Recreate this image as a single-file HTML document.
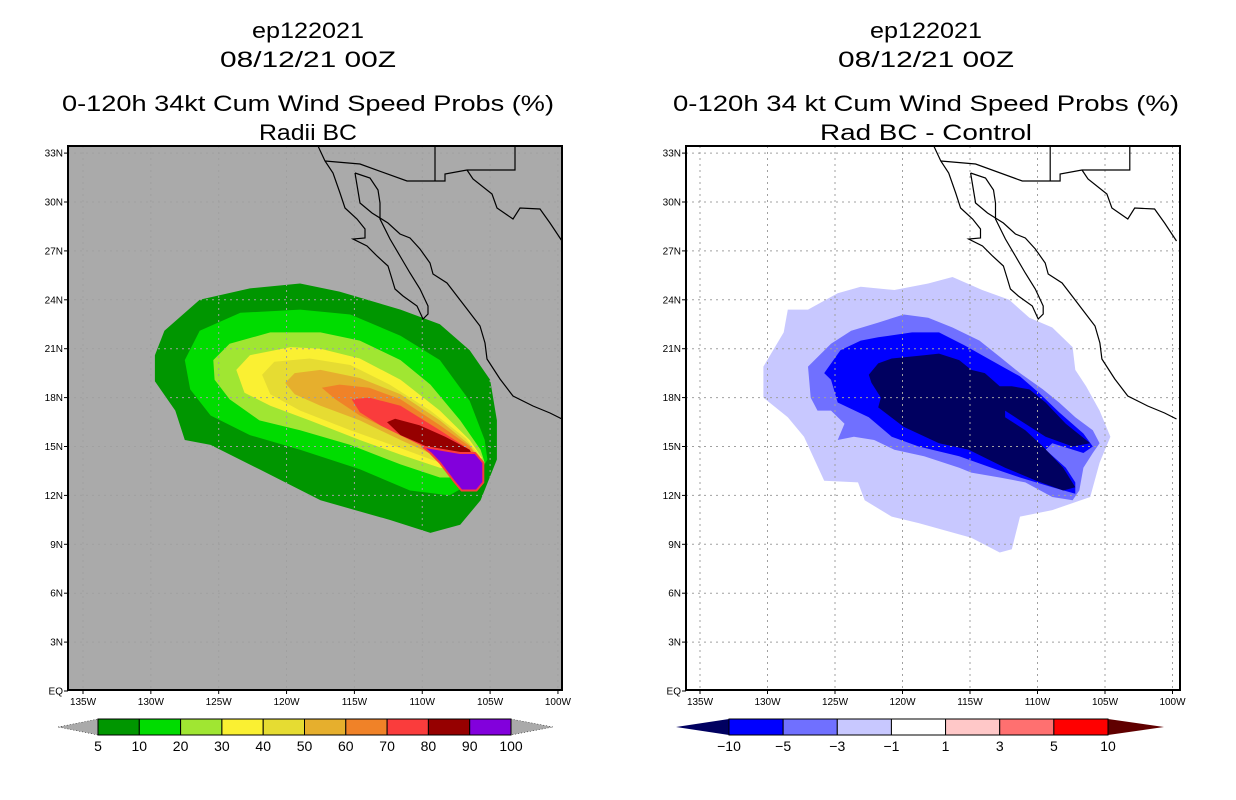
<!DOCTYPE html>
<html><head><meta charset="utf-8"><style>
html,body{margin:0;padding:0;background:#fff;}
svg{display:block;font-family:"Liberation Sans",sans-serif;}
</style></head><body>
<svg id="chart" width="1236" height="800" viewBox="0 0 1236 800" xmlns="http://www.w3.org/2000/svg">
<defs>
<clipPath id="clipL"><rect x="68" y="146" width="494" height="544"/></clipPath>
<clipPath id="clipR"><rect x="686" y="146" width="494" height="544"/></clipPath>
</defs>
<g id="left">
<text x="308" y="38" font-size="22" text-anchor="middle" textLength="112" lengthAdjust="spacingAndGlyphs">ep122021</text>
<text x="308" y="67" font-size="22" text-anchor="middle" textLength="176" lengthAdjust="spacingAndGlyphs">08/12/21 00Z</text>
<text x="308" y="111" font-size="22" text-anchor="middle" textLength="492" lengthAdjust="spacingAndGlyphs">0-120h 34kt Cum Wind Speed Probs (%)</text>
<text x="308" y="140" font-size="22" text-anchor="middle" textLength="98" lengthAdjust="spacingAndGlyphs">Radii BC</text>
<rect x="68" y="146" width="494" height="544" fill="#aaaaaa"/>
<g id="lcont" clip-path="url(#clipL)"></g>
<g id="lgrid" clip-path="url(#clipL)"></g>
<g id="lcoast" clip-path="url(#clipL)"></g>
<rect x="68" y="146" width="494" height="544" fill="none" stroke="#000" stroke-width="2"/>
<g id="laxes"></g>
<g id="lbar"></g>
</g>
<g id="right">
<text x="926" y="38" font-size="22" text-anchor="middle" textLength="112" lengthAdjust="spacingAndGlyphs">ep122021</text>
<text x="926" y="67" font-size="22" text-anchor="middle" textLength="176" lengthAdjust="spacingAndGlyphs">08/12/21 00Z</text>
<text x="926" y="111" font-size="22" text-anchor="middle" textLength="506" lengthAdjust="spacingAndGlyphs">0-120h 34 kt Cum Wind Speed Probs (%)</text>
<text x="926" y="140" font-size="22" text-anchor="middle" textLength="212" lengthAdjust="spacingAndGlyphs">Rad BC - Control</text>
<rect x="686" y="146" width="494" height="544" fill="#ffffff"/>
<g id="rcont" clip-path="url(#clipR)"></g>
<g id="rgrid" clip-path="url(#clipR)"></g>
<g id="rcoast" clip-path="url(#clipR)"></g>
<rect x="686" y="146" width="494" height="544" fill="none" stroke="#000" stroke-width="2"/>
<g id="raxes"></g>
<g id="rbar"></g>
</g>
</svg>
<script>
// ---- data ----
const lonTicks = [135,130,125,120,115,110,105,100];
const latTicks = [33,30,27,24,21,18,15,12,9,6,3,0];
const probLevels = [5,10,20,30,40,50,60,70,80,90,100];
const probColors = ["#009600","#00dc00","#a0e632","#faf032","#e6dc32","#e6af2d","#f08228","#fa3c3c","#960000","#8200dc"];
const diffLevels = ["-10","-5","-3","-1","1","3","5","10"];
const diffColors = ["#0000ff","#7070ff","#c8c8ff","#ffffff","#ffc8c8","#ff7070","#ff0000"];
const diffLowColor = "#000060", diffHighColor = "#600000";
// contour polygons [lonW, latN]
const p5 = [[129.7,20.6],[129.0,22.1],[126.4,24.0],[122.7,24.7],[119.0,25.0],[116.1,24.5],[111.6,23.4],[108.7,22.5],[106.5,20.9],[105.0,19.1],[104.5,16.6],[104.5,14.2],[105.7,11.7],[107.2,10.2],[109.4,9.7],[112.4,10.5],[117.5,11.7],[122.0,13.6],[125.6,15.1],[127.5,15.4],[128.2,17.2],[129.7,19.0]];
const p10 = [[127.5,20.3],[126.4,22.1],[123.4,23.2],[119.0,23.4],[115.3,23.1],[111.6,21.8],[108.7,20.3],[106.5,17.8],[105.4,15.4],[105.2,14.2],[106.1,12.9],[108.0,12.0],[110.9,12.3],[114.6,13.6],[119.0,14.8],[122.7,15.7],[125.6,16.9],[127.1,18.5]];
const p20 = [[125.4,20.3],[124.2,21.3],[121.2,22.0],[117.5,22.0],[114.6,21.5],[111.6,20.3],[109.4,18.8],[107.2,16.6],[105.7,14.8],[105.4,14.0],[106.5,13.1],[108.7,13.1],[111.6,13.9],[115.3,15.1],[119.0,16.0],[122.0,16.6],[124.2,17.9],[125.3,19.1]];
const p30 = [[123.7,19.7],[122.7,20.6],[119.7,21.1],[117.5,21.0],[114.6,20.4],[111.6,19.1],[108.7,17.2],[106.5,15.4],[105.6,14.3],[106.5,13.4],[108.7,13.7],[111.6,14.5],[114.6,15.4],[118.3,16.6],[121.2,17.5],[123.1,18.3]];
const p40 = [[121.8,19.4],[120.9,20.2],[118.3,20.4],[115.3,20.0],[112.4,18.8],[109.4,17.2],[106.8,15.5],[105.7,14.4],[106.6,13.7],[108.7,14.0],[111.6,14.9],[115.3,16.0],[119.0,17.2],[121.2,18.2]];
const p50 = [[120.1,18.9],[119.4,19.5],[117.5,19.7],[114.6,19.2],[111.6,18.2],[108.7,16.6],[106.5,15.1],[105.9,14.4],[106.8,13.9],[108.7,14.3],[111.6,15.4],[114.6,16.6],[117.5,17.5],[119.4,18.2]];
const p60 = [[117.4,18.6],[116.1,18.8],[113.9,18.6],[111.6,17.9],[108.7,16.3],[106.5,15.0],[106.0,14.4],[107.0,14.0],[108.7,14.5],[111.6,15.7],[114.6,16.9],[116.4,17.9]];
const p70 = [[115.2,17.9],[113.9,18.0],[111.6,17.5],[108.7,16.0],[106.5,14.8],[106.2,14.4],[107.1,14.0],[108.7,14.5],[110.9,15.4],[113.1,16.3],[114.6,17.1]];
const p80 = [[112.6,16.5],[112.0,16.7],[110.2,16.3],[108.3,15.6],[106.5,14.8],[106.3,14.4],[107.2,14.2],[108.7,14.6],[110.2,15.2],[111.6,15.7]];
const p90 = [[110.0,15.0],[107.2,14.6],[106.1,14.6],[105.5,14.0],[105.5,12.8],[106.0,12.3],[107.1,12.3],[107.7,12.9],[108.7,14.0],[109.4,14.6]];
const d1 = [[130.3,19.9],[128.8,22.0],[128.5,23.4],[127.0,23.4],[124.8,24.4],[123.1,24.8],[120.6,24.6],[118.1,25.0],[116.3,25.4],[114.1,24.6],[112.1,24.0],[110.6,22.9],[108.9,22.3],[107.4,21.1],[107.2,19.7],[106.4,18.7],[105.4,17.2],[104.6,15.6],[105.4,14.0],[106.1,11.9],[108.9,11.1],[111.3,10.7],[111.9,8.7],[112.8,8.5],[114.9,9.4],[118.8,10.3],[120.8,10.7],[122.8,11.7],[123.3,12.8],[125.8,12.9],[127.3,15.6],[128.5,16.8],[130.3,18.0]];
const d3 = [[127.0,19.9],[125.3,21.3],[123.8,22.1],[121.8,22.6],[119.9,23.1],[118.1,22.9],[116.3,22.3],[114.3,21.5],[112.8,20.5],[111.3,19.5],[109.6,18.5],[108.4,17.7],[107.2,16.8],[105.9,16.0],[105.4,15.2],[105.9,14.6],[106.6,13.7],[106.9,12.3],[107.4,11.7],[108.9,11.9],[110.9,12.8],[112.8,13.1],[114.9,13.4],[115.8,13.7],[118.4,14.4],[120.6,14.8],[122.1,15.4],[123.6,15.6],[124.8,15.4],[124.3,16.4],[125.3,17.2],[126.3,17.2],[126.8,18.0]];
const d5 = [[125.8,19.5],[124.6,20.9],[123.1,21.5],[121.8,21.7],[119.3,22.0],[117.3,22.0],[115.4,21.2],[113.9,20.5],[112.6,19.9],[111.3,19.3],[109.9,18.3],[108.4,17.1],[106.6,15.8],[105.9,15.0],[106.6,14.6],[108.9,15.2],[109.4,14.8],[107.9,13.7],[107.2,12.8],[107.2,12.1],[108.9,12.5],[111.3,13.1],[113.1,13.6],[115.8,14.4],[118.8,15.0],[120.8,15.6],[122.5,16.8],[124.8,17.7],[125.3,19.1]];
const d10 = [[122.5,19.4],[121.8,20.1],[120.8,20.4],[118.4,20.6],[117.3,20.7],[115.8,20.3],[114.9,19.7],[113.9,19.5],[112.8,18.7],[111.9,18.7],[110.6,18.5],[109.4,17.7],[107.9,16.4],[106.1,15.2],[107.4,15.0],[109.4,15.6],[111.3,16.6],[112.4,17.2],[112.4,16.8],[110.9,16.0],[109.6,15.0],[108.1,13.7],[107.2,12.5],[108.1,12.3],[110.1,12.9],[112.4,13.7],[115.1,14.8],[117.3,15.2],[119.9,16.2],[121.8,17.4],[121.6,18.0],[122.3,18.9]];
// geography (left-panel pixel trace, converted to lon/lat below)
const coastPx = [
 [[318,146],[325,161],[333,173],[340,193],[345,208],[357,219],[365,229],[365,238],[353,239],[367,246],[377,256],[388,266],[392,279],[395,289],[403,296],[417,306],[423,319],[428,314],[428,306],[420,289],[410,273],[400,256],[390,239],[380,219],[380,203],[378,190],[370,178],[355,173]],
 [[355,173],[360,203],[372,213],[388,223],[400,234],[410,238],[420,249],[430,263],[433,274],[447,283],[457,296],[467,309],[480,326],[485,343],[487,359],[500,379],[513,396],[533,406],[550,413],[562,419]],
 [[325,161],[360,164],[407,181],[445,181],[445,174],[467,170],[515,170],[515,146]],
 [[435,146],[435,181]],
 [[467,170],[473,179],[492,194],[497,208],[513,219],[520,208],[540,209],[550,223],[562,241]]
];
// ---- projections ----
const L = {x:lon=>83+(135-lon)*13.57, y:lat=>691-lat*16.3};
const R = {x:lon=>700+(135-lon)*13.5, y:lat=>691-lat*16.3};
const NS="http://www.w3.org/2000/svg";
function mk(tag, parent, attrs){const e=document.createElementNS(NS,tag);for(const k in attrs)e.setAttribute(k,attrs[k]);parent.appendChild(e);return e;}
function pts(P, poly){return poly.map(p=>P.x(p[0]).toFixed(1)+","+P.y(p[1]).toFixed(1)).join(" ");}
const coastLL = coastPx.map(line=>line.map(p=>[135-(p[0]-83)/13.57,(691-p[1])/16.3]));

function drawPanel(P, pre, x0, x1){
  const grid=document.getElementById(pre+"grid");
  lonTicks.forEach(lon=>{const l=mk("line",grid,{x1:P.x(lon),x2:P.x(lon),y1:146,y2:690,stroke:"#a0a0a0","stroke-width":1,"stroke-dasharray":"2,4"});
    
    });
  latTicks.forEach(lat=>{const l=mk("line",grid,{x1:x0,x2:x1,y1:P.y(lat),y2:P.y(lat),stroke:"#a0a0a0","stroke-width":1,"stroke-dasharray":"2,4"});
    
    });
  const coast=document.getElementById(pre+"coast");
  coastLL.forEach(line=>{const c=mk("polyline",coast,{points:pts(P,line),fill:"none",stroke:"#000","stroke-width":1.2});
    
    });
  const ax=document.getElementById(pre+"axes");
  lonTicks.forEach(lon=>{
    const t=mk("line",ax,{x1:P.x(lon),x2:P.x(lon),y1:690,y2:694,stroke:"#000"});
    
    
    const tx=mk("text",ax,{x:P.x(lon),y:705,"font-size":10,"text-anchor":"middle"});tx.textContent=lon+"W";
    
    
  });
  latTicks.forEach(lat=>{
    const t=mk("line",ax,{x1:x0-4,x2:x0,y1:P.y(lat),y2:P.y(lat),stroke:"#000"});
    
    
    const tx=mk("text",ax,{x:x0-5,y:P.y(lat)+3.5,"font-size":10,"text-anchor":"end"});tx.textContent=lat===0?"EQ":lat+"N";
    
    
  });
}
// left contours
const lc=document.getElementById("lcont");
[p5,p10,p20,p30,p40,p50,p60,p70,p80,p90].forEach((poly,i)=>{
  const e=mk("polygon",lc,{points:pts(L,poly),fill:probColors[i],stroke:i===9?"#fa3c3c":"none","stroke-width":i===9?2:0,"stroke-linejoin":"round"});
  
  
});
const rc=document.getElementById("rcont");
[[d1,2],[d3,1],[d5,0]].forEach(([poly,ci])=>{
  const e=mk("polygon",rc,{points:pts(R,poly),fill:diffColors[ci]});
  
  
});
{const e=mk("polygon",rc,{points:pts(R,d10),fill:diffLowColor});
 
 }
drawPanel(L,"l",68,562);
drawPanel(R,"r",686,1180);
// colorbars
function colorbar(gid, bx0, bx1, tipL, tipR, colors, lowC, highC, labels){
  const g=document.getElementById(gid), y0=719, y1=735, n=colors.length, w=(bx1-bx0)/n;
  const a=mk("polygon",g,{points:`${tipL},727 ${bx0},${y0} ${bx0},${y1}`,fill:lowC,stroke:lowC==="#aaaaaa"?"#000":"none","stroke-width":0.5,"stroke-dasharray":"1,2"});
  
  
  const b=mk("polygon",g,{points:`${tipR},727 ${bx1},${y0} ${bx1},${y1}`,fill:highC,stroke:highC==="#aaaaaa"?"#000":"none","stroke-width":0.5,"stroke-dasharray":"1,2"});
  
  
  colors.forEach((c,i)=>{const r=mk("rect",g,{x:bx0+i*w,y:y0,width:w,height:y1-y0,fill:c,stroke:"#000","stroke-width":1});
    
    });
  labels.forEach((s,i)=>{const t=mk("text",g,{x:bx0+i*w,y:751,"font-size":14,"text-anchor":"middle"});t.textContent=s;
    
    });
}
colorbar("lbar",98,511,58,553,probColors,"#aaaaaa","#aaaaaa",probLevels.map(String));
colorbar("rbar",729,1108,676,1164,diffColors,diffLowColor,diffHighColor,diffLevels.map(s=>s.replace("-","\u2212")));
</script>
</body></html>
